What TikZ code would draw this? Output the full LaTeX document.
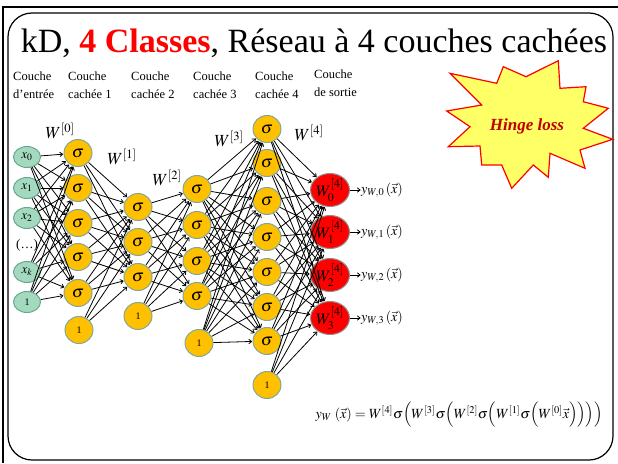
\documentclass[tikz,border=0pt]{standalone}
\usepackage{mathptmx}
\usepackage[no-math]{fontspec}
\setmainfont{Liberation Serif}
\newfontfamily\tms{Liberation Serif}
\usetikzlibrary{arrows.meta,shapes.geometric}
\definecolor{inpfill}{HTML}{A3D9BE}
\definecolor{inpdraw}{HTML}{6AA88E}
\definecolor{sigfill}{HTML}{FFC000}
\definecolor{sigdraw}{HTML}{7FA89A}
\definecolor{outdraw}{HTML}{8C8C8C}
\definecolor{starfill}{HTML}{FFFF66}
\definecolor{hinge}{HTML}{C00000}
\tikzset{
  inp/.style={ellipse, minimum width=27pt, minimum height=21pt, inner sep=0pt, fill=inpfill, draw=inpdraw, line width=1pt, font=\tms\fontsize{13}{13}\selectfont},
  sig/.style={ellipse, minimum width=28pt, minimum height=27pt, inner sep=0pt, fill=sigfill, draw=sigdraw, line width=1pt, font=\tms\fontsize{17}{17}\selectfont},
  outn/.style={ellipse, minimum width=35pt, minimum height=33pt, inner sep=0pt, fill=red, draw=outdraw, line width=1pt, font=\tms\fontsize{16}{16}\selectfont},
  arr/.style={-{To[length=3.5pt,width=5pt]}, line width=0.8pt, shorten >=0.5pt},
  hdr/.style={anchor=north west, align=left, inner sep=0pt, font=\tms\fontsize{12.5}{17.5}\selectfont},
  wlab/.style={font=\tms\fontsize{17}{17}\selectfont, inner sep=0pt},
  olab/.style={anchor=west, inner sep=0pt, font=\tms\fontsize{14}{14}\selectfont},
  small1/.style={font=\tms\fontsize{10}{10}\selectfont}
}
\begin{document}
\begin{tikzpicture}[x=1pt,y=-1pt]
\useasboundingbox (0,0) rectangle (618,463);
\fill[white] (0,0) rectangle (618,463);
% frame
\draw[line width=1.6pt] (3,463) -- (3,7) -- (618,7);
\draw[line width=1.2pt, rounded corners=24pt] (8,13) rectangle (613,460);
% title
\node[font=\tms\fontsize{34}{34}\selectfont, inner sep=0pt] (title) at (314,43) {kD, \textcolor{red}{\textbf{4 Classes}}, Réseau à 4 couches cachées};
% headers
\node[hdr] (h0) at (13,72) {Couche\\d’entrée};
\node[hdr] (h1) at (68,72) {Couche\\cachée 1};
\node[hdr] (h2) at (131,72) {Couche\\cachée 2};
\node[hdr] (h3) at (193,72) {Couche\\cachée 3};
\node[hdr] (h4) at (255,72) {Couche\\cachée 4};
\node[hdr] (h5) at (314,70) {Couche\\de sortie};
% star
\draw[red, fill=starfill, line width=1.2pt, line join=miter]
 (450,73.3) -- (496.7,83.3) -- (503.3,66.7) -- (526,76.7) -- (558.3,60.7) -- (560,88.3)
 -- (586,86.7) -- (583.3,101.7) -- (608.3,108.3) -- (583.3,128.3) -- (612.7,139.3)
 -- (580,150) -- (585,168.3) -- (550,153.3) -- (548.3,177.3) -- (533.3,165)
 -- (511.7,188.3) -- (501.7,165) -- (481.7,165) -- (480,146) -- (448.3,146.7)
 -- (470,126.7) -- (446.7,111) -- (481.7,105) -- cycle;
\node[text=hinge, font=\tms\fontsize{17}{17}\selectfont\bfseries\itshape] (hl) at (527,126) {Hinge loss};
% input layer
\node[inp] (i0) at (27,157) {$x_0$};
\node[inp] (i1) at (27,188) {$x_1$};
\node[inp] (i2) at (27,218) {$x_2$};
\node[font=\tms\fontsize{13}{13}\selectfont] (idots) at (27,245) {(…)};
\node[inp] (ik) at (27,272) {$x_k$};
\node[inp, small1] (ib) at (27,302) {1};
% layer 1
\foreach \n/\y in {1/153,2/188,3/223,4/257,5/293}
  \node[sig] (a\n) at (78,\y) {$\sigma$};
\node[sig, small1] (ab) at (79,330) {1};
% layer 2
\foreach \n/\y in {1/207,2/242,3/277}
  \node[sig] (b\n) at (138,\y) {$\sigma$};
\node[sig, small1] (bb) at (138,316) {1};
% layer 3
\foreach \n/\y in {1/189,2/225,3/261,4/296}
  \node[sig] (c\n) at (197,\y) {$\sigma$};
\node[sig, small1] (cb) at (199,343) {1};
% layer 4
\foreach \n/\y in {1/129,2/163,3/201,4/237,5/272,6/307,7/341}
  \node[sig] (d\n) at (267,\y) {$\sigma$};
\node[sig, small1] (db) at (267,385) {1};
% output
\foreach \n/\y in {0/190,1/232,2/275,3/318}{
  \node[outn] (o\n) at (330,\y) {$W^{[4]}_{\n}$};
  \node[olab] (l\n) at (361,\y) {$y_{W\!,\n}\left(\vec{x}\right)$};
  \draw[arr] (o\n) -- (l\n);
}
% W labels
\node[wlab] (w0) at (60,131) {$W^{[0]}$};
\node[wlab] (w1) at (122,157) {$W^{[1]}$};
\node[wlab] (w2) at (167,178) {$W^{[2]}$};
\node[wlab] (w3) at (229,139) {$W^{[3]}$};
\node[wlab] (w4) at (309,133) {$W^{[4]}$};
% connections
\foreach \s in {i0,i1,i2,ik,ib}
  \foreach \t in {a1,a2,a3,a4,a5}
    \draw[arr] (\s) -- (\t);
\foreach \s in {a1,a2,a3,a4,a5,ab}
  \foreach \t in {b1,b2,b3}
    \draw[arr] (\s) -- (\t);
\foreach \s in {b1,b2,b3,bb}
  \foreach \t in {c1,c2,c3,c4}
    \draw[arr] (\s) -- (\t);
\foreach \s in {c1,c2,c3,c4,cb}
  \foreach \t in {d1,d2,d3,d4,d5,d6,d7}
    \draw[arr] (\s) -- (\t);
\foreach \s in {d1,d2,d3,d4,d5,d6,d7,db}
  \foreach \t in {o0,o1,o2,o3}
    \draw[arr] (\s) -- (\t);
% formula
\node[font=\tms\fontsize{14}{16}\selectfont, inner sep=0pt] (f) at (459,415)
 {$y_W\,\left(\vec{x}\right)=W^{[4]}\sigma\Bigl(W^{[3]}\sigma\Bigl(W^{[2]}\sigma\Bigl(W^{[1]}\sigma\Bigl(W^{[0]}\vec{x}\Bigr)\Bigr)\Bigr)\Bigr)$};
\end{tikzpicture}
\end{document}
